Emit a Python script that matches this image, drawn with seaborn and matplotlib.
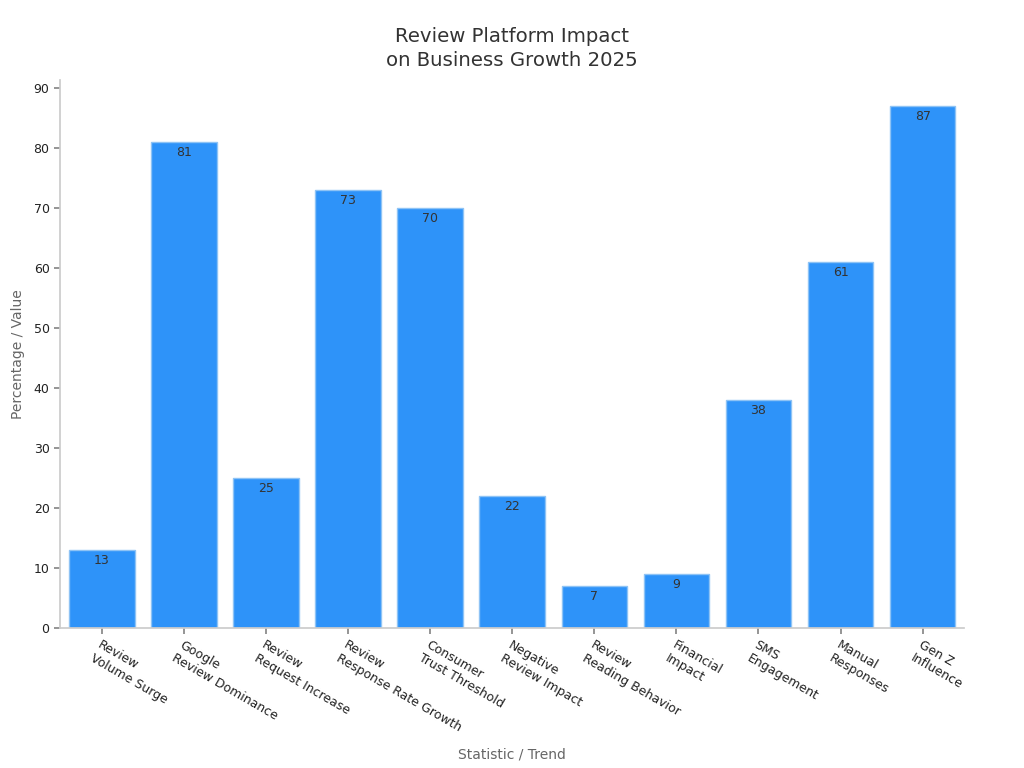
import matplotlib
matplotlib.use("Agg")
import matplotlib.pyplot as plt
import seaborn as sns
import pandas as pd

categories = [
    "Review\nVolume Surge", "Google\nReview Dominance", "Review\nRequest Increase",
    "Review\nResponse Rate Growth", "Consumer\nTrust Threshold", "Negative\nReview Impact",
    "Review\nReading Behavior", "Financial\nImpact", "SMS\nEngagement",
    "Manual\nResponses", "Gen Z\nInfluence",
]
values = [13, 81, 25, 73, 70, 22, 7, 9, 38, 61, 87]

sns.set_theme(style="white")
plt.rcParams['font.family'] = ['DejaVu Sans']

df = pd.DataFrame({"cat": categories, "val": values})
fig = plt.figure(figsize=(10.24, 7.68), dpi=100)
ax = fig.add_axes([0.0586, 0.182, 0.8825, 0.714])
sns.barplot(data=df, x="cat", y="val", color="#2E93F9", saturation=1, width=0.8,
            edgecolor="#8EC3F5", linewidth=1, ax=ax)

for p, v in zip(ax.patches, values):
    ax.annotate(str(v), (p.get_x() + p.get_width() / 2, p.get_height()),
                xytext=(0, -3), textcoords="offset points", ha="center", va="top",
                fontsize=9, color="#333333")

ax.set_xlim(-0.51, 10.5)
ax.set_ylim(0, 91.4)
ax.set_yticks(range(0, 91, 10))
ax.tick_params(axis="both", length=4, color="#888888", labelsize=9, labelcolor="#222222",
               bottom=True, left=True)
plt.setp(ax.get_xticklabels(), rotation=-30, ha="left", rotation_mode="anchor", fontsize=9)
for s in ["top", "right"]:
    ax.spines[s].set_visible(False)
for s in ["left", "bottom"]:
    ax.spines[s].set_color("#cccccc")
ax.set_xlabel("Statistic / Trend", color="#666666", fontsize=10, labelpad=10)
ax.set_ylabel("Percentage / Value", color="#666666", fontsize=10, labelpad=6)
ax.set_title("Review Platform Impact\non Business Growth 2025", fontsize=14.2, color="#333333",
             pad=10, linespacing=1.35)
fig.savefig("out.png", dpi=100)
